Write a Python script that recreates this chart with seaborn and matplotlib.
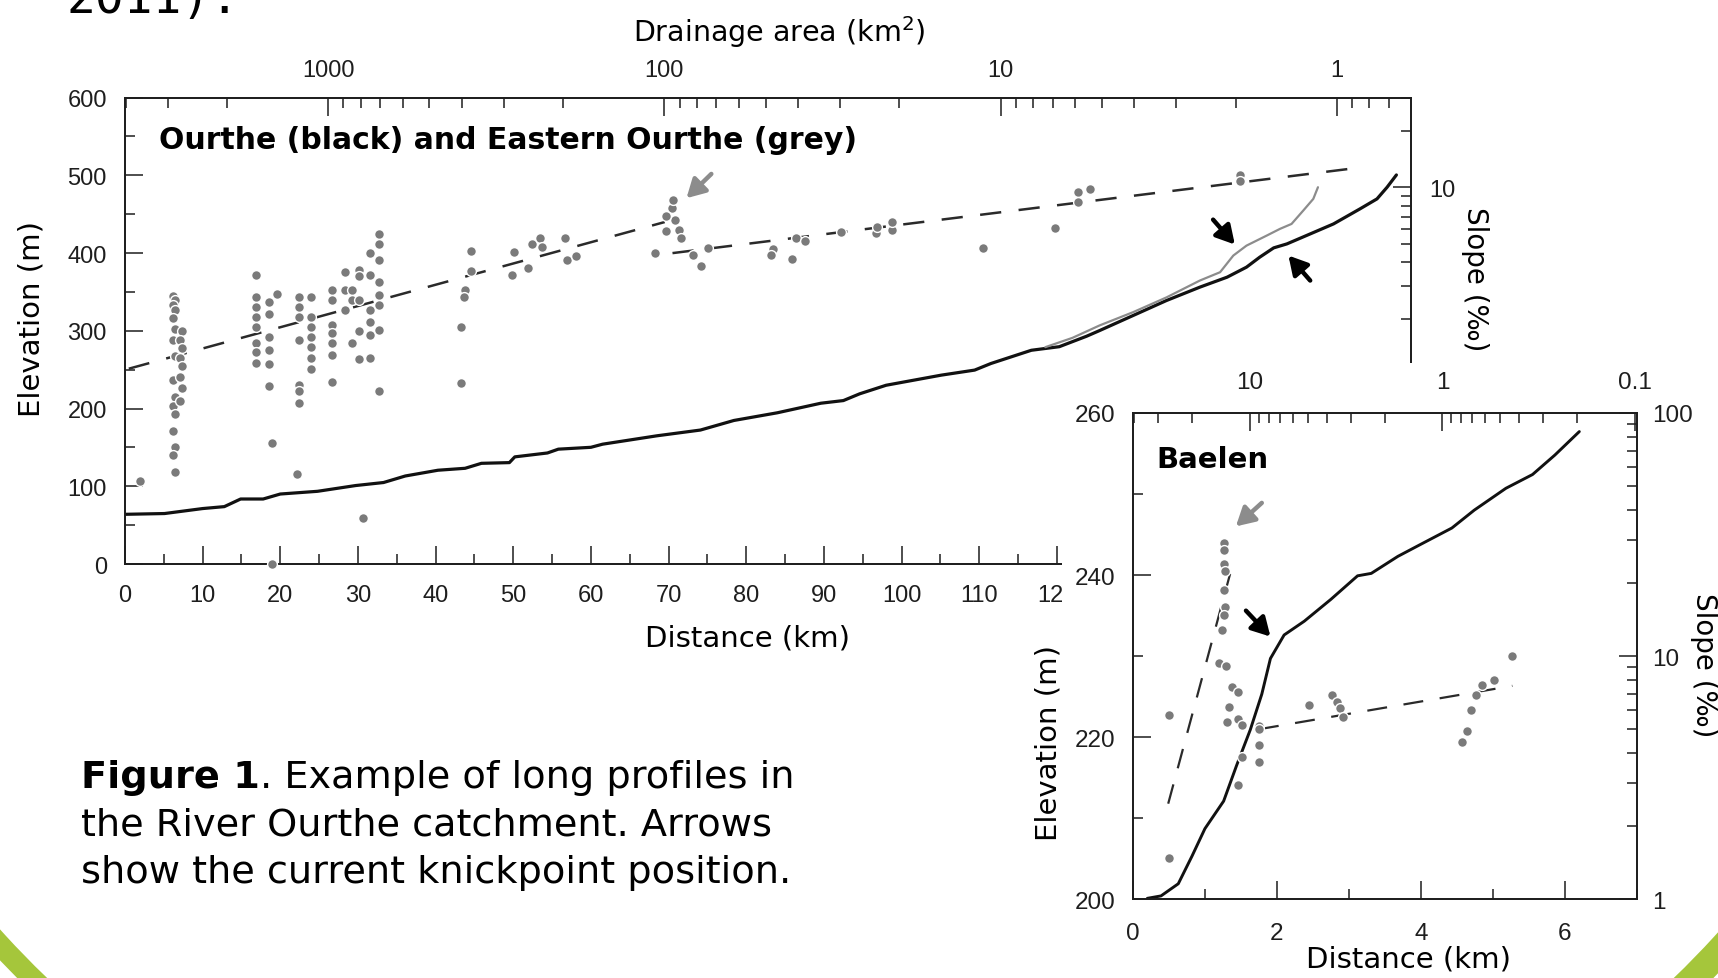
import numpy as np
import pandas as pd
import seaborn as sns
from matplotlib import pyplot as plt
from matplotlib.patches import Rectangle, Wedge
from matplotlib.ticker import (FixedFormatter, FixedLocator, LogLocator,
                               MultipleLocator, NullFormatter)

# ---- Ourthe long profile (distance km, elevation m)
ourthe_km = [0, 5.1, 10.0, 12.8, 14.9, 17.8, 20.0, 24.8, 29.7, 33.3, 36.1, 40.3,
             43.8, 45.9, 49.5, 50.2, 54.4, 55.8, 60.0, 61.5, 68.5, 74.1, 78.4,
             84.0, 89.6, 92.5, 94.6, 98.0, 101.6, 105.1, 109.4, 111.5, 116.7,
             120.3, 123.8, 125.5, 129.8, 134.1, 138.4, 141.9, 144.4, 146.1,
             147.9, 149.6, 152.1, 155.6, 159.0, 161.2, 162.5, 163.7]
ourthe_elev = [64, 65, 71.4, 73.9, 83.7, 83.7, 90.1, 93.6, 101, 104.9, 113.3,
               120.7, 123.2, 129.6, 130.5, 137.9, 142.9, 147.8, 150.2, 154.2,
               165, 172.4, 184.7, 194.6, 206.9, 210.3, 219, 230, 236.6, 243,
               249.5, 258, 275, 279.6, 293, 300.4, 319.7, 339, 356.2, 369,
               381.9, 394.7, 406.7, 411.8, 422.5, 437.5, 456.8, 469.7, 484.7,
               500.5]

# ---- Eastern Ourthe, upper course
east_km = [118.5, 122.0, 125.5, 129.8, 134.1, 138.4, 141.0, 142.7, 144.4,
           147.0, 148.7, 150.2, 151.7, 153.0, 153.6]
east_elev = [279, 291, 307, 324, 343, 364.7, 375.4, 396.8, 409.6, 422.5,
             431.1, 437.5, 454.6, 469.7, 484.7]

# ---- channel slope samples (km, permil)
slope_km = [1.9,
            6.2, 6.4, 6.2, 6.4, 6.2, 6.4, 6.2, 6.4, 6.2, 6.4, 6.2, 6.4, 6.2, 6.4, 6.2, 6.4,
            7.3, 7.1, 7.3, 7.1, 7.3, 7.1, 7.3, 7.1,
            16.9, 16.9, 16.9, 16.9, 16.9, 16.9, 16.9, 16.9,
            18.6, 18.6, 18.6, 18.6, 18.6, 18.6, 19.6, 19.0, 18.9,
            22.4, 22.4, 22.4, 22.4, 22.4, 22.4, 22.4, 22.2,
            23.9, 23.9, 23.9, 23.9, 23.9, 23.9, 23.9,
            26.7, 26.7, 26.7, 26.7, 26.7, 26.7, 26.7,
            28.3, 28.3, 28.3, 29.2, 29.2, 29.2,
            30.1, 30.1, 30.1, 30.1, 30.1, 30.6,
            31.6, 31.6, 31.6, 31.6, 31.6, 31.6,
            32.7, 32.7, 32.7, 32.7, 32.7, 32.7, 32.7, 32.7,
            44.6, 44.6, 43.8, 43.6, 43.3, 43.3,
            49.9, 50.1, 51.9, 52.4, 53.5, 53.7, 56.6, 56.9, 58.1, 68.2,
            70.4, 70.6, 70.8, 69.7, 69.6, 71.3, 71.6, 73.1, 74.2, 75.1,
            83.4, 83.2, 85.9, 86.4, 87.5, 92.2, 96.7, 96.8, 98.8, 98.8,
            110.5, 119.7, 122.7, 122.7, 124.2, 143.6, 143.6]
slope_pm = [0.277,
            2.66, 2.53, 2.37, 2.24, 2.02, 1.78, 1.55, 1.27, 0.95, 0.77, 0.69, 0.63, 0.51, 0.42, 0.38, 0.31,
            1.72, 1.55, 1.41, 1.24, 1.12, 0.99, 0.86, 0.73,
            3.43, 2.63, 2.33, 2.06, 1.82, 1.49, 1.34, 1.17,
            2.46, 2.14, 1.61, 1.37, 1.16, 0.88, 2.71, 0.44, 0.1,
            2.63, 2.33, 2.06, 1.55, 0.89, 0.83, 0.72, 0.30,
            2.63, 2.06, 1.82, 1.61, 1.43, 1.24, 1.09,
            2.87, 2.53, 1.87, 1.68, 1.49, 1.29, 0.93,
            3.57, 2.87, 2.24, 2.87, 2.53, 1.49,
            3.64, 3.37, 2.53, 1.72, 1.22, 0.175,
            4.48, 3.43, 2.24, 1.94, 1.65, 1.24,
            5.63, 4.98, 4.11, 3.15, 2.68, 2.37, 1.75, 0.83,
            4.57, 3.60, 2.87, 2.61, 1.82, 0.91,
            3.43, 4.53, 3.74, 4.98, 5.37, 4.84, 5.37, 4.11, 4.32, 4.46,
            7.78, 8.55, 6.68, 7.07, 5.85, 5.96, 5.37, 4.40, 3.81, 4.79,
            4.70, 4.40, 4.19, 5.37, 5.17, 5.79, 5.70, 6.13, 5.96, 6.55,
            4.79, 6.08, 9.50, 8.39, 9.77, 11.6, 10.85]

# fitted slope trends (two segments each)
trend_km = [[0.5, 69.5], [70.5, 159.0]]
trend_pm = [[1.09, 6.55], [4.48, 12.75]]

# ---- Baelen inset
baelen_km = [0.2, 0.39, 0.63, 0.82, 1.0, 1.26, 1.44, 1.63, 1.79, 1.91, 2.1,
             2.38, 2.75, 3.12, 3.31, 3.68, 4.0, 4.43, 4.74, 5.18, 5.55, 5.86, 6.2]
baelen_elev = [200.1, 200.4, 201.9, 205.3, 208.7, 212.1, 216.5, 220.9, 225.3,
               229.7, 232.6, 234.3, 237, 239.9, 240.2, 242.3, 243.8, 245.8,
               248, 250.7, 252.4, 254.8, 257.7]
baelen_slope_km = [0.50, 0.50, 1.26, 1.27, 1.26, 1.28, 1.26, 1.28, 1.26, 1.24,
                   1.19, 1.29, 1.38, 1.46, 1.34, 1.30, 1.46, 1.51, 1.46, 1.51,
                   1.75, 1.75, 1.75, 1.75, 2.44, 2.77, 2.83, 2.87, 2.92,
                   4.57, 4.64, 4.70, 4.77, 4.85, 5.02, 5.26]
baelen_slope_pm = [5.7, 1.47, 29.3, 27.2, 23.9, 22.3, 18.7, 15.9, 14.7, 12.8,
                   9.4, 9.1, 7.45, 7.13, 6.19, 5.33, 5.5, 5.2, 2.96, 3.83,
                   5.14, 5.0, 4.32, 3.67, 6.3, 6.9, 6.5, 6.1, 5.6,
                   4.43, 4.9, 6.0, 6.9, 7.6, 8.0, 10.0]
baelen_trend_km = [[0.49, 1.35], [1.75, 5.27]]
baelen_trend_pm = [[2.47, 21.8], [5.0, 7.54]]

# tick labels (main right axis: only "10" shows above the pasted inset)
area_main = [1000, 100, 10, 1]
area_main_lbl = ["1000", "100", "10", "1"]
slope_main = [0.1, 1, 10]
slope_main_lbl = ["", "", "10"]
area_inset = [10, 1, 0.1]
area_inset_lbl = ["10", "1", "0.1"]
slope_inset = [1, 10, 100]
slope_inset_lbl = ["1", "10", "100"]

DARK = "#1e1e1e"
DOT = "#7a7a7a"
GREY_LINE = "#8c8c8c"
GREEN = "#a5c63b"
TXT = "DejaVu Sans"

sns.set_style("ticks")
plt.rcParams["font.family"] = ["Liberation Sans", "DejaVu Sans"]
plt.rcParams["axes.edgecolor"] = DARK
plt.rcParams["axes.linewidth"] = 1.1


def log_axis(axis, major, labels):
    axis.set_major_locator(FixedLocator(major))
    axis.set_major_formatter(FixedFormatter(labels))
    axis.set_minor_locator(LogLocator(base=10, subs=np.arange(2, 10), numticks=40))
    axis.set_minor_formatter(NullFormatter())


def ticks(a, axis, pad, size=17):
    a.tick_params(axis=axis, which="both", direction="in", width=1.1,
                  colors=DARK, labelsize=size, pad=pad)
    a.tick_params(axis=axis, which="major", length=13)
    a.tick_params(axis=axis, which="minor", length=7)


def arrow(a, tail, head, color):
    a.annotate("", xy=head, xytext=tail,
               arrowprops=dict(arrowstyle="-|>,head_length=0.5,head_width=0.28",
                               lw=3.2, color=color, shrinkA=0, shrinkB=0,
                               mutation_scale=22))


fig = plt.figure(figsize=(17.18, 9.79), dpi=100)

# ================= main panel =================
ax = fig.add_axes([0.0727, 0.4228, 0.7487, 0.4765])
ax_top = ax.twiny()
ax_r = ax.twinx()
ax_r.set_yscale("log")

sns.lineplot(x=ourthe_km, y=ourthe_elev, ax=ax, color="#111111", lw=2.3,
             sort=False, estimator=None)
sns.lineplot(x=east_km, y=east_elev, ax=ax, color=GREY_LINE, lw=1.6,
             sort=False, estimator=None)
for xs, ys in zip(trend_km, trend_pm):
    sns.lineplot(x=xs, y=ys, ax=ax_r, color="#2a2a2a", lw=1.8,
                 linestyle=(0, (8.5, 7)), sort=False, estimator=None)
sns.scatterplot(x=slope_km, y=slope_pm, ax=ax_r, color=DOT, s=50,
                edgecolor="white", linewidth=1.0, clip_on=False, zorder=3)

ax.set_xlim(0, 165.6)
ax.set_ylim(0, 600)
ax.xaxis.set_major_locator(MultipleLocator(10))
ax.xaxis.set_minor_locator(MultipleLocator(5))
ax.yaxis.set_major_locator(MultipleLocator(100))
ax.yaxis.set_minor_locator(MultipleLocator(50))
ticks(ax, "x", 14)
ticks(ax, "y", 13)

ax_top.set_xscale("log")
ax_top.set_xlim(4018, 0.601)
log_axis(ax_top.xaxis, area_main, area_main_lbl)
ticks(ax_top, "x", 12)

ax_r.set_ylim(0.1, 30)
log_axis(ax_r.yaxis, slope_main, slope_main_lbl)
ticks(ax_r, "y", 13)
ax_r.set_xlim(0, 165.6)

for a in (ax, ax_top, ax_r):
    a.set_xlabel("")
    a.set_ylabel("")

ax.text(0.0264, 0.891, "Ourthe (black) and Eastern Ourthe (grey)",
        transform=ax.transAxes, family=TXT, weight="bold", size=21.5,
        va="baseline", color="black")
ax.text(-0.073, 0.528, "Elevation (m)", transform=ax.transAxes, family=TXT,
        size=21, rotation=90, ha="center", va="center", color="black")
ax.text(0.4838, -0.1737, "Distance (km)", transform=ax.transAxes, family=TXT,
        size=21, ha="center", va="baseline", color="black")
ax.text(0.5086, 1.1213, "Drainage area (km$^2$)", transform=ax.transAxes,
        family=TXT, size=20.5, ha="center", va="baseline", color="black")
ax.text(1.050, 0.6127, "Slope (\u2030)", transform=ax.transAxes, family=TXT,
        size=20, rotation=270, ha="center", va="center", color="black")

arrow(ax, (75.5, 501.8), (72.3, 470.6), GREY_LINE)
arrow(ax, (140.1, 443), (142.9, 411), "black")
arrow(ax, (152.6, 364.7), (149.8, 396.8), "black")

# white backing of the pasted inset
fig.add_artist(Rectangle((1062 / 1718, 0), 1 - 1062 / 1718, 1 - 364 / 979,
                         transform=fig.transFigure, facecolor="white",
                         edgecolor="none", zorder=1))

# ================= Baelen inset =================
ax_in = fig.add_axes([0.65944, 0.08054, 0.29337, 0.49664], zorder=3)
ax_in_top = ax_in.twiny()
ax_in_r = ax_in.twinx()
ax_in_top.set_zorder(4)
ax_in_r.set_zorder(5)
ax_in_r.set_yscale("log")

sns.lineplot(x=baelen_km, y=baelen_elev, ax=ax_in, color="#111111", lw=2.1,
             sort=False, estimator=None)
for xs, ys in zip(baelen_trend_km, baelen_trend_pm):
    sns.lineplot(x=xs, y=ys, ax=ax_in_r, color="#2a2a2a", lw=1.6,
                 linestyle=(0, (9, 7.5)), sort=False, estimator=None)
sns.scatterplot(x=baelen_slope_km, y=baelen_slope_pm, ax=ax_in_r, color=DOT,
                s=50, edgecolor="white", linewidth=1.0, zorder=3)

ax_in.set_xlim(0, 7)
ax_in.set_ylim(200, 260)
ax_in.xaxis.set_major_locator(MultipleLocator(2))
ax_in.xaxis.set_minor_locator(MultipleLocator(1))
ax_in.yaxis.set_major_locator(MultipleLocator(20))
ax_in.yaxis.set_minor_locator(MultipleLocator(10))
ticks(ax_in, "x", 16.5, 17.5)
ticks(ax_in, "y", 12.5, 17.5)

ax_in_top.set_xscale("log")
ax_in_top.set_xlim(40.7, 0.0974)
log_axis(ax_in_top.xaxis, area_inset, area_inset_lbl)
ticks(ax_in_top, "x", 14, 17.5)

ax_in_r.set_ylim(1, 100)
log_axis(ax_in_r.yaxis, slope_inset, slope_inset_lbl)
ticks(ax_in_r, "y", 11, 17.5)
ax_in_r.set_xlim(0, 7)

for a in (ax_in, ax_in_top, ax_in_r):
    a.set_xlabel("")
    a.set_ylabel("")

ax_in.text(0.0465, 0.8885, "Baelen", transform=ax_in.transAxes, family=TXT,
           weight="bold", size=21, va="baseline", color="black")
ax_in.text(-0.167, 0.324, "Elevation (m)", transform=ax_in.transAxes,
           family=TXT, size=21, rotation=90, ha="center", va="center",
           color="black")
ax_in.text(0.547, -0.138, "Distance (km)", transform=ax_in.transAxes,
           family=TXT, size=21, ha="center", va="baseline", color="black")
ax_in.text(1.133, 0.484, "Slope (\u2030)", transform=ax_in.transAxes,
           family=TXT, size=20, rotation=270, ha="center", va="center",
           color="black")

arrow(ax_in, (1.79, 248.9), (1.43, 246.0), GREY_LINE)
arrow(ax_in, (1.57, 235.6), (1.91, 232.4), "black")

# ================= slide text and decoration =================
fig.text(67 / 1718, 1 - 13.3 / 979, "2011).", family="DejaVu Sans Mono",
         size=34.5, va="baseline", color="black")

cap_x = 81 / 1718
t1 = fig.text(cap_x, 1 - 788 / 979, "Figure 1", family=TXT, weight="bold",
              size=27.5, va="baseline", color="black")
fig.add_artist(plt.Annotation(". Example of long profiles in", xy=(1, 0),
                              xycoords=t1, va="bottom", ha="left",
                              family=TXT, size=27.5, color="black"))
fig.text(cap_x, 1 - 835 / 979, "the River Ourthe catchment. Arrows",
         family=TXT, size=27.5, va="baseline", color="black")
fig.text(cap_x, 1 - 883 / 979, "show the current knickpoint position.",
         family=TXT, size=27.5, va="baseline", color="black")

# green theme swooshes in the slide corners (pixel coordinates)
deco = fig.add_axes([0, 0, 1, 1], zorder=10)
deco.set_xlim(0, 1718)
deco.set_ylim(979, 0)
deco.axis("off")
deco.patch.set_alpha(0)
deco.add_patch(Wedge((700, 300), 963, 110, 165, width=21, facecolor=GREEN,
                     edgecolor="none"))
deco.add_patch(Wedge((1018, 300), 972, 15, 70, width=28, facecolor=GREEN,
                     edgecolor="none"))

fig.savefig("out.png", dpi=100, facecolor="white")
